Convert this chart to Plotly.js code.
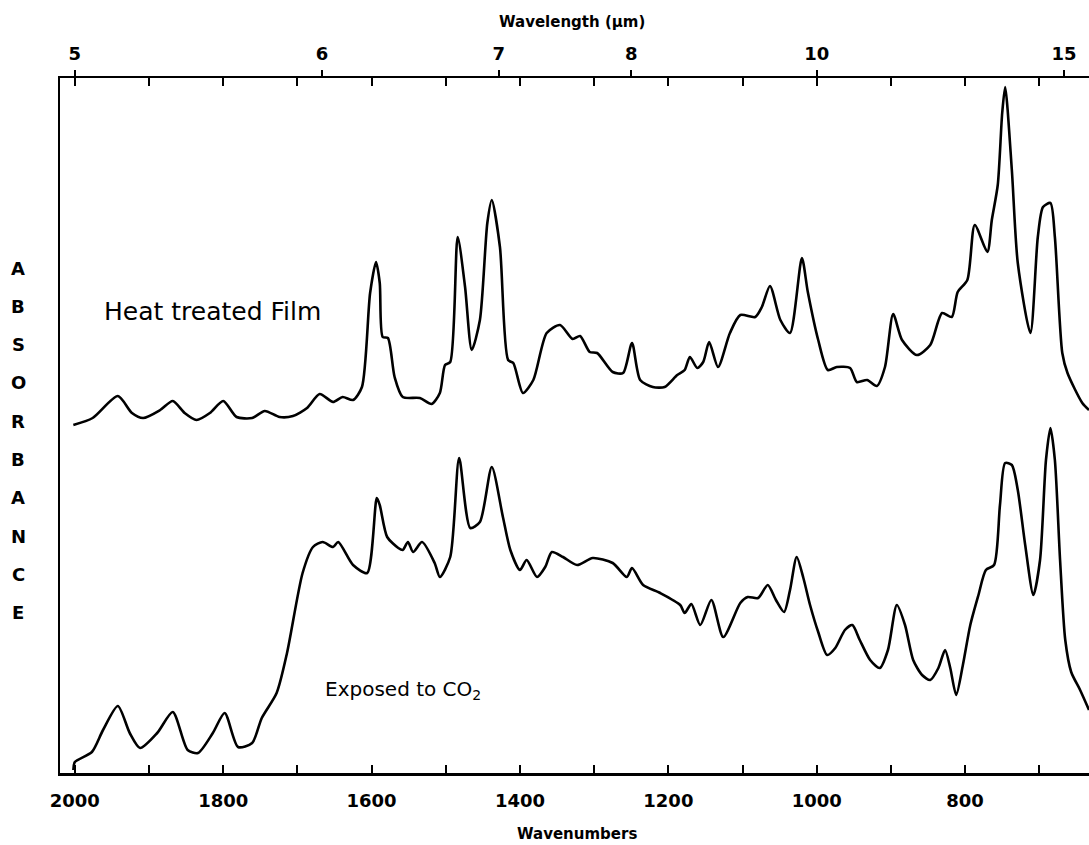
<!DOCTYPE html>
<html>
<head>
<meta charset="utf-8">
<script src="https://cdn.plot.ly/plotly-3.0.1.min.js"></script>
<style>html,body{margin:0;padding:0;background:#fff;}#chart{width:1089px;height:845px;}</style>
</head>
<body>
<div id="chart"></div>
<script>
// Heat treated film spectrum (wavenumber cm-1, absorbance arb. units)
const wavenumberHeat = [2002,1976,1942,1923,1908,1885,1868,1852,1836,1818,1800,1782,1761,1744,1724,1706,1687,1670,1652,1639,1625,1613,1602,1594,1589,1585,1578,1569,1558,1535,1519,1508,1501,1494,1484,1474,1465,1454,1444,1438,1427,1416,1409,1396,1382,1364,1346,1329,1319,1306,1296,1275,1261,1249,1238,1221,1205,1188,1178,1171,1161,1153,1145,1133,1117,1103,1083,1074,1063,1049,1036,1020,1012,998,985,973,955,946,932,919,908,897,885,865,847,831,818,810,797,787,770,764,756,750,746,737,729,712,702,695,685,679,669,662,642,633];
const absorbanceHeat = [0.348,0.355,0.377,0.360,0.355,0.363,0.372,0.360,0.353,0.360,0.372,0.356,0.355,0.362,0.356,0.357,0.365,0.379,0.371,0.376,0.373,0.386,0.480,0.511,0.490,0.436,0.435,0.396,0.376,0.375,0.369,0.380,0.408,0.411,0.536,0.486,0.423,0.453,0.550,0.573,0.526,0.413,0.410,0.380,0.393,0.440,0.448,0.434,0.437,0.421,0.420,0.401,0.400,0.430,0.393,0.386,0.386,0.398,0.403,0.416,0.405,0.411,0.431,0.406,0.440,0.458,0.456,0.466,0.487,0.453,0.440,0.515,0.481,0.433,0.403,0.406,0.405,0.391,0.393,0.387,0.406,0.459,0.433,0.418,0.428,0.460,0.456,0.481,0.493,0.548,0.521,0.553,0.588,0.660,0.686,0.603,0.510,0.440,0.536,0.566,0.570,0.536,0.420,0.400,0.370,0.363];

// Film exposed to CO2
const wavenumberCO2 = [2002,2000,1977,1962,1942,1926,1912,1889,1868,1848,1834,1814,1798,1780,1761,1748,1728,1714,1693,1679,1666,1652,1645,1625,1606,1593,1589,1579,1564,1558,1551,1544,1532,1515,1508,1494,1482,1467,1454,1438,1423,1413,1400,1391,1377,1366,1357,1342,1323,1302,1275,1256,1249,1234,1211,1184,1178,1169,1157,1142,1126,1103,1093,1079,1066,1055,1044,1036,1027,1018,1009,998,986,975,962,952,942,928,915,904,892,881,870,858,847,836,827,820,812,803,793,782,772,761,753,746,737,729,719,708,699,691,685,679,672,665,657,645,633];
const absorbanceCO2 = [0.003,0.011,0.021,0.043,0.067,0.040,0.025,0.040,0.061,0.023,0.020,0.040,0.060,0.026,0.030,0.055,0.080,0.120,0.200,0.226,0.231,0.226,0.231,0.208,0.200,0.275,0.268,0.236,0.225,0.223,0.231,0.221,0.231,0.210,0.196,0.216,0.315,0.245,0.251,0.306,0.256,0.223,0.203,0.213,0.196,0.206,0.221,0.216,0.208,0.215,0.210,0.196,0.205,0.188,0.180,0.168,0.160,0.169,0.148,0.173,0.136,0.170,0.176,0.175,0.188,0.173,0.161,0.183,0.216,0.195,0.168,0.141,0.118,0.125,0.143,0.148,0.133,0.113,0.105,0.123,0.168,0.148,0.113,0.098,0.093,0.105,0.123,0.105,0.078,0.108,0.148,0.178,0.203,0.208,0.268,0.310,0.308,0.283,0.228,0.178,0.213,0.313,0.345,0.313,0.213,0.133,0.101,0.083,0.063];

// Axis ticks
const bottomTickLabels = [2000,1800,1600,1400,1200,1000,800];
const wavelengthLabels = [5,6,7,8,10,15];
const minorWavenumbers = [2000,1900,1800,1700,1600,1500,1400,1300,1200,1100,1000,900,800,700];
const yLabelLetters = ['A','B','S','O','R','B','A','N','C','E'];

const xRange = [2020, 633];
const yRange = [0, 0.695];
const axisFont = {family: 'DejaVu Sans', size: 18, color: '#000', weight: 'bold'};

const lineStyle = {color: '#000', width: 2.6, shape: 'spline', smoothing: 0.7};
const traces = [
  {x: wavenumberHeat, y: absorbanceHeat, type: 'scatter', mode: 'lines', line: lineStyle, name: 'Heat treated Film', hoverinfo: 'skip'},
  {x: wavenumberCO2, y: absorbanceCO2, type: 'scatter', mode: 'lines', line: lineStyle, name: 'Exposed to CO2', hoverinfo: 'skip'},
  {x: [wavenumberHeat[0]], y: [null], xaxis: 'x2', type: 'scatter', mode: 'lines', showlegend: false, hoverinfo: 'skip'},
  {x: [wavenumberHeat[0]], y: [null], xaxis: 'x3', type: 'scatter', mode: 'lines', showlegend: false, hoverinfo: 'skip'}
];

const H = 845, mt = 78, mb = 72, ml = 60, W = 1089;
const plotH = H - mt - mb, plotW = W - ml;
function py(p){ return (H - mb - p) / plotH; }
function px(p){ return (p - ml) / plotW; }

const annotations = [
  {text: 'Wavenumbers', xref: 'paper', yref: 'paper', x: px(577), y: py(834), showarrow: false, xanchor: 'center', yanchor: 'middle', font: {family: 'DejaVu Sans', size: 15, color: '#000', weight: 'bold'}},
  {text: 'Wavelength (µm)', xref: 'paper', yref: 'paper', x: px(572), y: py(22), showarrow: false, xanchor: 'center', yanchor: 'middle', font: {family: 'DejaVu Sans', size: 15, color: '#000', weight: 'bold'}},
  {text: 'Heat treated Film', xref: 'paper', yref: 'paper', x: px(102), y: py(311), showarrow: false, xanchor: 'left', yanchor: 'middle', font: {family: 'DejaVu Sans', size: 25, color: '#000'}},
  {text: 'Exposed to CO<sub>2</sub>', xref: 'paper', yref: 'paper', x: px(323), y: py(690), showarrow: false, xanchor: 'left', yanchor: 'middle', font: {family: 'DejaVu Sans', size: 20, color: '#000'}}
];
yLabelLetters.forEach((L, i) => {
  annotations.push({text: L, xref: 'paper', yref: 'paper', x: px(18), y: py(268 + i * 38.3), showarrow: false, xanchor: 'center', yanchor: 'middle', font: {family: 'DejaVu Sans', size: 18, color: '#000', weight: 'bold'}});
});

const layout = {
  width: W, height: H,
  margin: {l: ml, r: 0, t: mt, b: mb, pad: 0},
  paper_bgcolor: '#fff', plot_bgcolor: '#fff',
  showlegend: false,
  xaxis: {
    range: xRange, showgrid: false, zeroline: false,
    showline: true, linecolor: '#000', linewidth: 2.5,
    tickmode: 'array', tickvals: bottomTickLabels, ticktext: bottomTickLabels.map(String),
    ticks: 'inside', ticklen: 8, tickwidth: 2, tickcolor: '#000',
    minor: {tickmode: 'array', tickvals: minorWavenumbers, ticks: 'inside', ticklen: 8, tickwidth: 2, tickcolor: '#000', showgrid: false},
    tickfont: axisFont, ticklabelstandoff: 10
  },
  xaxis2: {
    overlaying: 'x', side: 'top', anchor: 'y', range: xRange,
    showgrid: false, zeroline: false, showline: true, linecolor: '#000', linewidth: 2.5,
    tickmode: 'array', tickvals: wavelengthLabels.map(l => 1e4 / l), ticktext: wavelengthLabels.map(String),
    ticks: 'outside', ticklen: 6, tickwidth: 2, tickcolor: '#000',
    tickfont: axisFont, ticklabelstandoff: 2
  },
  xaxis3: {
    overlaying: 'x', side: 'top', anchor: 'y', range: xRange,
    showgrid: false, zeroline: false, showline: false,
    tickmode: 'array', tickvals: minorWavenumbers, showticklabels: false,
    ticks: 'inside', ticklen: 8, tickwidth: 2, tickcolor: '#000'
  },
  yaxis: {
    range: yRange, showgrid: false, zeroline: false,
    showline: true, linecolor: '#000', linewidth: 2.5,
    showticklabels: false, ticks: ''
  },
  annotations: annotations
};

Plotly.newPlot('chart', traces, layout, {displayModeBar: false, staticPlot: true});
</script>
</body>
</html>
